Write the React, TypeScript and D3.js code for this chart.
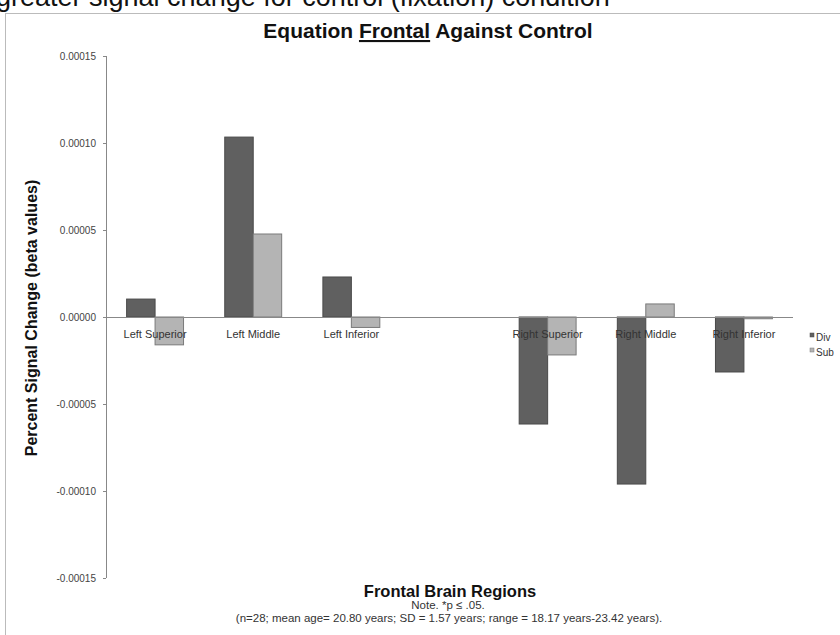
import React from "react";
import * as d3 from "d3";

const categories = ["Left Superior", "Left Middle", "Left Inferior", "", "Right Superior", "Right Middle", "Right Inferior"];
const seriesNames = ["Div", "Sub"];
const divValues: (number | null)[] = [0.0000103, 0.0001034, 0.000023, null, -0.0000615, -0.000096, -0.0000316];
const subValues: (number | null)[] = [-0.000016, 0.0000477, -0.000006, null, -0.0000218, 0.0000075, -0.000001];
const yTicks = [0.00015, 0.0001, 0.00005, 0, -0.00005, -0.0001, -0.00015];

const W = 840;
const H = 635;
const colors = ["#606060", "#b4b4b4"];
const strokes = ["#4a4a4a", "#7a7a7a"];
const FONT = "'Liberation Sans', Arial, sans-serif";

export default function App() {
  const x0 = d3.scaleBand<string>().domain(categories.map((c, i) => String(i))).range([106, 793]).paddingInner(0.42).paddingOuter(0.21);
  const x1 = d3.scaleBand<string>().domain(seriesNames).range([0, x0.bandwidth()]);
  const y = d3.scaleLinear().domain([-0.00015, 0.00015]).range([578, 56]);
  const series = [divValues, subValues];

  return (
    <svg width={W} height={H} style={{ position: "absolute", left: 0, top: 0, background: "#fff" }} fontFamily={FONT}>
      <rect x={0} y={0} width={W} height={H} fill="#fff" />
      <text x={-4} y={6} fontSize={27} fill="#111">greater signal change for control (fixation) condition</text>
      <line x1={5} y1={13.5} x2={W} y2={13.5} stroke="#bbb" />
      <line x1={5.5} y1={13} x2={5.5} y2={H} stroke="#bbb" />
      <text x={428} y={38} fontSize={21} fontWeight="bold" textAnchor="middle" fill="#111">
        Equation <tspan textDecoration="underline">Frontal</tspan> Against Control
      </text>
      {/* y axis */}
      <line x1={106.5} y1={y(0.00015)} x2={106.5} y2={y(-0.00015)} stroke="#888" />
      {yTicks.map((t) => (
        <g key={t}>
          <line x1={103} x2={106} y1={Math.round(y(t)) + 0.5} y2={Math.round(y(t)) + 0.5} stroke="#888" />
          <text x={96} y={y(t) + 3.5} fontSize={10} textAnchor="end" fill="#444">
            {t.toFixed(5)}
          </text>
        </g>
      ))}
      <text transform={`translate(37,318) rotate(-90)`} fontSize={16} fontWeight="bold" textAnchor="middle" fill="#111">
        Percent Signal Change (beta values)
      </text>
      {/* bars */}
      {categories.map((c, i) =>
        series.map((vals, s) => {
          const v = vals[i];
          if (v === null) return null;
          const bx = (x0(String(i)) as number) + (x1(seriesNames[s]) as number);
          const top = Math.min(y(v), y(0));
          const h = Math.abs(y(v) - y(0));
          return (
            <rect key={`${i}-${s}`} x={bx} y={top} width={x1.bandwidth()} height={Math.max(h, 1)} fill={colors[s]} stroke={strokes[s]} strokeWidth={1} />
          );
        })
      )}
      <line x1={106} x2={793} y1={Math.round(y(0)) + 0.5} y2={Math.round(y(0)) + 0.5} stroke="#888" />
      {categories.map((c, i) => (
        <text key={c + i} x={(x0(String(i)) as number) + x0.bandwidth() / 2} y={338} fontSize={11} textAnchor="middle" fill="#333">
          {c}
        </text>
      ))}
      {/* legend */}
      {seriesNames.map((n, s) => (
        <g key={n}>
          <rect x={810} y={333 + s * 15} width={4} height={4} fill={colors[s]} stroke={strokes[s]} strokeWidth={0.5} />
          <text x={816} y={341 + s * 15} fontSize={10} fill="#333">{n}</text>
        </g>
      ))}
      <text x={450} y={597} fontSize={16.5} fontWeight="bold" textAnchor="middle" fill="#111">Frontal Brain Regions</text>
      <text x={448} y={609} fontSize={11.5} textAnchor="middle" fill="#333">Note. *p ≤ .05.</text>
      <text x={449} y={622} fontSize={11.5} textAnchor="middle" fill="#333">(n=28; mean age= 20.80 years; SD = 1.57 years; range = 18.17 years-23.42 years).</text>
    </svg>
  );
}
